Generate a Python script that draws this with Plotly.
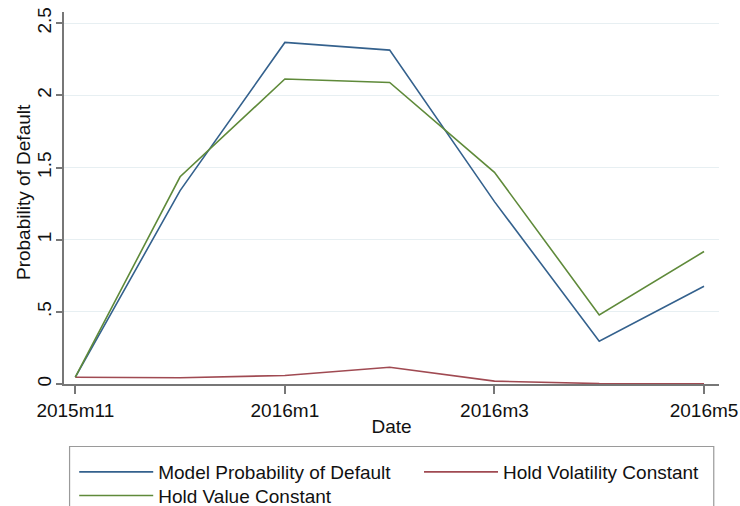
import plotly.graph_objects as go

# Monthly observation dates
dates = ["2015m11", "2015m12", "2016m1", "2016m2", "2016m3", "2016m4", "2016m5"]

# Probability of default series
model_pd = [0.047, 1.34, 2.367, 2.314, 1.264, 0.296, 0.677]
hold_volatility = [0.047, 0.043, 0.059, 0.116, 0.02, 0.003, 0.002]
hold_value = [0.047, 1.436, 2.114, 2.090, 1.467, 0.479, 0.918]

# Axis ticks
x_ticks = ["2015m11", "2016m1", "2016m3", "2016m5"]
y_tickvals = [0, 0.5, 1, 1.5, 2, 2.5]
y_ticktext = ["0", ".5", "1", "1.5", "2", "2.5"]

FONT = "Liberation Sans, Arial, sans-serif"
BLUE = "#34618d"
MAROON = "#a04a52"
GREEN = "#5f8a3a"

fig = go.Figure()
fig.add_trace(go.Scatter(x=dates, y=model_pd, mode="lines",
                         name="Model Probability of Default", legend="legend",
                         line=dict(color=BLUE, width=1.6)))
fig.add_trace(go.Scatter(x=dates, y=hold_volatility, mode="lines",
                         name="Hold Volatility Constant", legend="legend2",
                         line=dict(color=MAROON, width=1.6)))
fig.add_trace(go.Scatter(x=dates, y=hold_value, mode="lines",
                         name="Hold Value Constant", legend="legend3",
                         line=dict(color=GREEN, width=1.6)))

# frame around the legend
fig.add_shape(type="rect", xref="paper", yref="paper",
              x0=0.0085, x1=0.992, y0=-0.34, y1=-0.168,
              line=dict(color="#9a9a9a", width=1.2), fillcolor="rgba(0,0,0,0)")

# y-axis title, rotated
fig.add_annotation(text="Probability of Default", xref="paper", yref="paper",
                   x=-0.0626, y=0.516, xanchor="center", yanchor="middle",
                   textangle=-90, showarrow=False, font=dict(size=19))

legend_style = dict(orientation="v", xanchor="left", yanchor="top",
                    itemwidth=74, tracegroupgap=0, font=dict(size=19),
                    bgcolor="rgba(0,0,0,0)", borderwidth=0, itemclick=False)

fig.update_layout(
    width=740, height=506,
    margin=dict(l=64, r=21, t=12, b=122, autoexpand=False),
    paper_bgcolor="white", plot_bgcolor="white",
    font=dict(family=FONT, size=19, color="#111111"),
    showlegend=True,
    legend=dict(x=0.0156, y=-0.1855, **legend_style),
    legend2=dict(x=0.542, y=-0.1855, **legend_style),
    legend3=dict(x=0.0156, y=-0.249, **legend_style),
    xaxis=dict(
        type="category", categoryorder="array", categoryarray=dates,
        range=[-0.108, 6.143],
        tickmode="array", tickvals=x_ticks, ticktext=x_ticks,
        ticks="outside", ticklen=8, tickcolor="#777777", tickwidth=1.5,
        showline=True, linecolor="#777777", linewidth=1.5,
        showgrid=False, zeroline=False,
        title=dict(text="Date", standoff=0, font=dict(size=19)),
        tickfont=dict(size=19),
    ),
    yaxis=dict(
        range=[0, 2.578],
        tickmode="array", tickvals=y_tickvals, ticktext=y_ticktext,
        tickangle=-90, ticklabelstandoff=-2,
        ticks="outside", ticklen=6, tickcolor="#777777", tickwidth=1.5,
        showline=True, linecolor="#777777", linewidth=1.5,
        showgrid=True, gridcolor="#e7eff2", gridwidth=1,
        zeroline=False,
        tickfont=dict(size=19),
    ),
)

fig.write_html("out.html")
